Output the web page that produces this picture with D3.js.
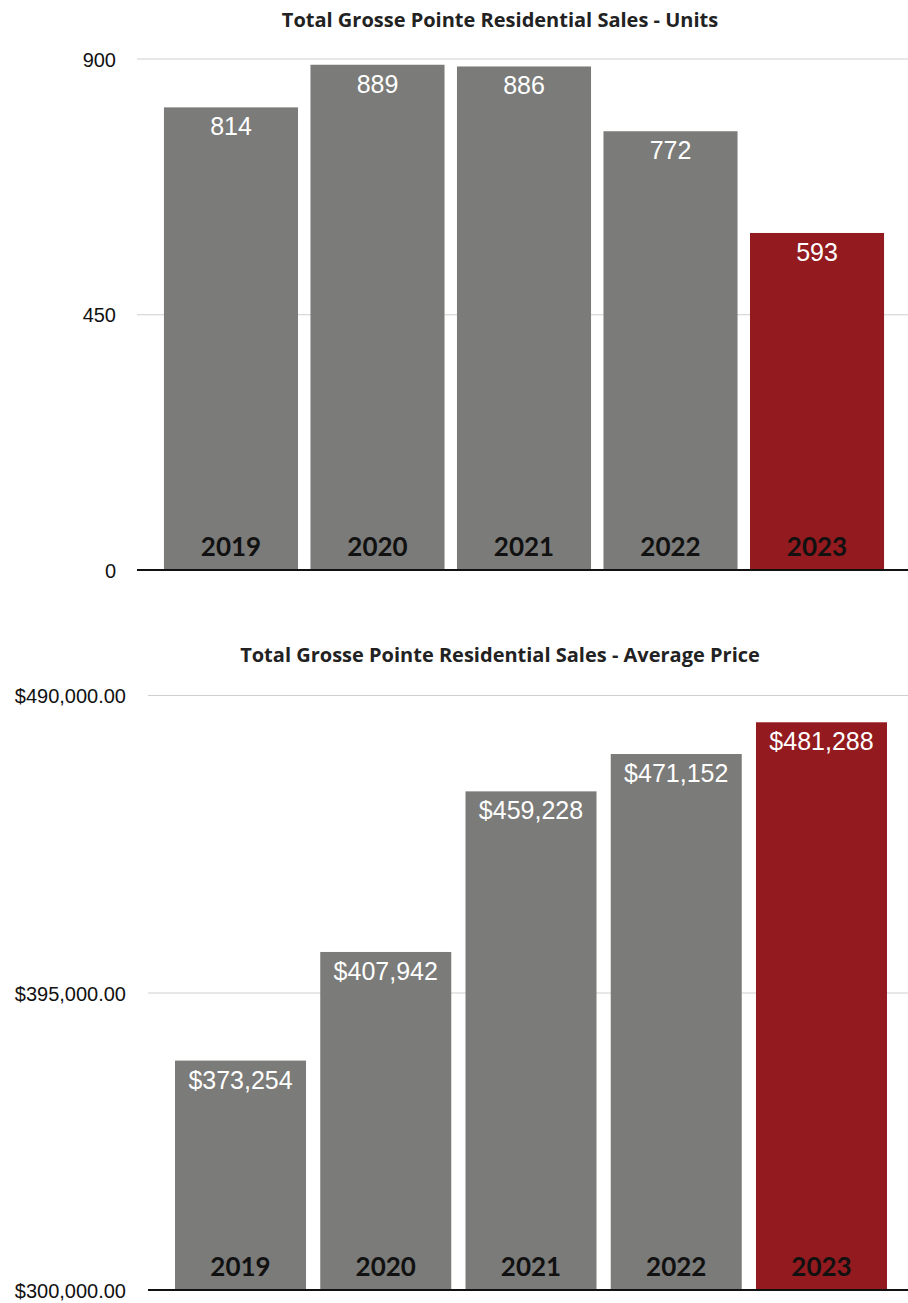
<!DOCTYPE html>
<html>
<head>
<meta charset="utf-8">
<script src="https://cdn.jsdelivr.net/npm/d3@7"></script>
<style>
  html, body { margin: 0; padding: 0; background: #fff; }
  svg { display: block; }
</style>
</head>
<body>
<div id="chart"></div>
<script>
// Grosse Pointe residential sales, 2019–2023
const years = ["2019", "2020", "2021", "2022", "2023"];
const units = [814, 889, 886, 772, 593];
const avgPrice = [373254, 407942, 459228, 471152, 481288];
const unitTicks = [0, 450, 900];
const priceTicks = [300000, 395000, 490000];
const highlightYear = "2023";

const W = 908, H = 1303;
const barGray = "#7b7b79";
const barRed = "#931a1e";

const svg = d3.select("#chart").append("svg")
  .attr("width", W).attr("height", H);

function panel(opts) {
  const g = svg.append("g");
  const x = d3.scaleBand()
    .domain(years)
    .range(opts.xRange)
    .paddingInner(opts.padIn)
    .paddingOuter(opts.padOut);
  const y = d3.scaleLinear().domain(opts.domain).range(opts.yRange);

  // title
  g.append("text")
    .attr("x", 500).attr("y", opts.titleY)
    .attr("text-anchor", "middle")
    .attr("font-family", "'Open Sans', sans-serif")
    .attr("font-weight", 700)
    .attr("font-size", 20)
    .attr("fill", "#222")
    .text(opts.title);

  // gridlines + tick labels via axis
  const axis = d3.axisLeft(y)
    .tickValues(opts.ticks)
    .tickSize(-(W - opts.gridStart))
    .tickPadding(opts.gridStart - opts.labelRight)
    .tickFormat(opts.tickFormat);
  const ag = g.append("g")
    .attr("transform", `translate(${opts.gridStart},0)`)
    .call(axis);
  ag.select(".domain").remove();
  ag.selectAll(".tick line").attr("stroke", "#cfcfcf").attr("stroke-width", 1);
  ag.selectAll(".tick text")
    .attr("font-family", "'Liberation Sans', Arial, sans-serif")
    .attr("font-size", 20)
    .attr("fill", "#111")
    .attr("dy", "0.38em");

  // bars
  const bars = g.append("g").selectAll("g").data(years.map((yr, i) => ({ yr, v: opts.values[i] })))
    .join("g");
  bars.append("rect")
    .attr("x", d => x(d.yr))
    .attr("width", x.bandwidth())
    .attr("y", d => y(d.v))
    .attr("height", d => y(opts.domain[0]) - y(d.v))
    .attr("fill", d => d.yr === highlightYear ? barRed : barGray);

  // value labels
  bars.append("text")
    .attr("x", d => x(d.yr) + x.bandwidth() / 2)
    .attr("y", d => y(d.v) + 28)
    .attr("text-anchor", "middle")
    .attr("font-family", "'Liberation Sans', Arial, sans-serif")
    .attr("font-size", 25)
    .attr("fill", "#fff")
    .text(d => opts.valueFormat(d.v));

  // year labels
  bars.append("text")
    .attr("x", d => x(d.yr) + x.bandwidth() / 2)
    .attr("y", y(opts.domain[0]) - 14)
    .attr("text-anchor", "middle")
    .attr("font-family", "Lato, sans-serif")
    .attr("font-weight", 700)
    .attr("font-size", 26)
    .attr("fill", "#111")
    .text(d => d.yr);

  // baseline
  g.append("line")
    .attr("x1", opts.gridStart).attr("x2", W)
    .attr("y1", y(opts.domain[0])).attr("y2", y(opts.domain[0]))
    .attr("stroke", "#111").attr("stroke-width", 2);
}

panel({
  title: "Total Grosse Pointe Residential Sales - Units",
  titleY: 27,
  values: units,
  domain: [0, 900],
  yRange: [570, 58.5],
  ticks: unitTicks,
  tickFormat: d3.format("d"),
  valueFormat: d3.format("d"),
  gridStart: 137,
  labelRight: 116,
  xRange: [137, 911],
  padIn: 0.085,
  padOut: 0.184
});

panel({
  title: "Total Grosse Pointe Residential Sales - Average Price",
  titleY: 662,
  values: avgPrice,
  domain: [300000, 490000],
  yRange: [1290, 695],
  ticks: priceTicks,
  tickFormat: d3.format("$,.2f"),
  valueFormat: d3.format("$,.0f"),
  gridStart: 148,
  labelRight: 126,
  xRange: [148, 914],
  padIn: 0.098,
  padOut: 0.186
});
</script>
</body>
</html>
